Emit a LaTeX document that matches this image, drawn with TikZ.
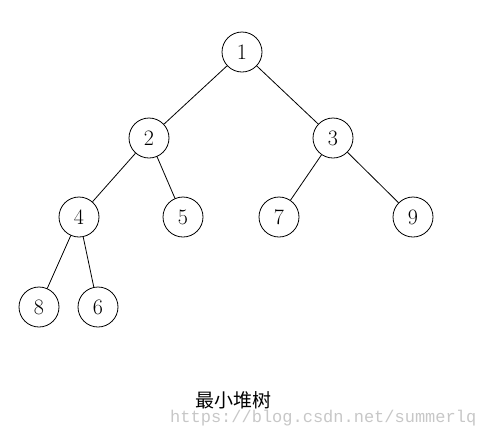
\documentclass[tikz,border=0pt]{standalone}
\usepackage{fontspec}
\newfontfamily\cjk{Noto Sans CJK SC}
\newfontfamily\wmfont{Liberation Mono}
\tikzset{
	heapnode/.style={draw, circle, minimum size=40pt, inner sep=0pt, line width=0.8pt, font=\fontsize{22}{26}\selectfont},
	heapedge/.style={line width=0.8pt}
}

\begin{document}
\begin{tikzpicture}[x=1pt,y=-1pt]
	\useasboundingbox (0,0) rectangle (482,440);
	% nodes of the heap
	\node[heapnode] (n1) at (242,52) {1};
	\node[heapnode] (n2) at (149,138) {2};
	\node[heapnode] (n3) at (333,138) {3};
	\node[heapnode] (n4) at (79,217) {4};
	\node[heapnode] (n5) at (183,217) {5};
	\node[heapnode] (n7) at (279,217) {7};
	\node[heapnode] (n9) at (413,217) {9};
	\node[heapnode] (n8) at (39,307) {8};
	\node[heapnode] (n6) at (98,307) {6};

	\draw[heapedge] (n1)--(n2);
	\draw[heapedge] (n1)--(n3);
	\draw[heapedge] (n2)--(n4);
	\draw[heapedge] (n2)--(n5);
	\draw[heapedge] (n3)--(n7);
	\draw[heapedge] (n3)--(n9);
	\draw[heapedge] (n4)--(n8);
	\draw[heapedge] (n4)--(n6);

	\node[font=\cjk\fontsize{19}{22}\selectfont] (title) at (233,400) {最小堆树};
	\node[font=\wmfont\fontsize{17}{20}\selectfont, text=black!22, anchor=west, inner sep=0pt] (mark) at (170,418) {https://blog.csdn.net/summerlq};
\end{tikzpicture}
\end{document}
